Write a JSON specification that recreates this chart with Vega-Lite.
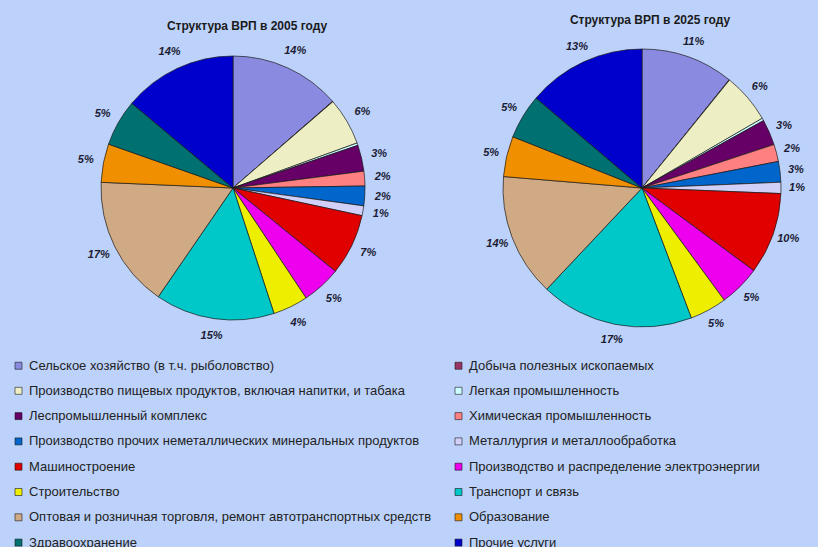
{
  "$schema": "https://vega.github.io/schema/vega-lite/v6.json",
  "background": "#bdd2fb",
  "padding": {"left": 0, "top": 13, "right": 0, "bottom": 0},
  "data": {"values": [
    {"year": 2005, "k": 1, "sector": "Сельское хозяйство (в т.ч. рыболовство)", "value": 13.6, "label": "14%"},
    {"year": 2005, "k": 2, "sector": "Добыча полезных ископаемых", "value": 0.05, "label": ""},
    {"year": 2005, "k": 3, "sector": "Производство пищевых продуктов, включая напитки, и табака", "value": 5.8, "label": "6%"},
    {"year": 2005, "k": 4, "sector": "Легкая промышленность", "value": 0.3, "label": ""},
    {"year": 2005, "k": 5, "sector": "Леспромышленный комплекс", "value": 3.2, "label": "3%"},
    {"year": 2005, "k": 6, "sector": "Химическая промышленность", "value": 1.8, "label": "2%"},
    {"year": 2005, "k": 7, "sector": "Производство прочих неметаллических минеральных продуктов", "value": 2.4, "label": "2%"},
    {"year": 2005, "k": 8, "sector": "Металлургия и металлообработка", "value": 1.2, "label": "1%"},
    {"year": 2005, "k": 9, "sector": "Машиностроение", "value": 7.5, "label": "7%"},
    {"year": 2005, "k": 10, "sector": "Производство и распределение электроэнергии", "value": 4.8, "label": "5%"},
    {"year": 2005, "k": 11, "sector": "Строительство", "value": 4.3, "label": "4%"},
    {"year": 2005, "k": 12, "sector": "Транспорт и связь", "value": 14.6, "label": "15%"},
    {"year": 2005, "k": 13, "sector": "Оптовая и розничная торговля, ремонт автотранспортных средств", "value": 16.1, "label": "17%"},
    {"year": 2005, "k": 14, "sector": "Образование", "value": 4.7, "label": "5%"},
    {"year": 2005, "k": 15, "sector": "Здравоохранение", "value": 5.7, "label": "5%"},
    {"year": 2005, "k": 16, "sector": "Прочие услуги", "value": 13.9, "label": "14%"},
    {"year": 2025, "k": 1, "sector": "Сельское хозяйство (в т.ч. рыболовство)", "value": 10.8, "label": "11%"},
    {"year": 2025, "k": 2, "sector": "Добыча полезных ископаемых", "value": 0.05, "label": ""},
    {"year": 2025, "k": 3, "sector": "Производство пищевых продуктов, включая напитки, и табака", "value": 5.8, "label": "6%"},
    {"year": 2025, "k": 4, "sector": "Легкая промышленность", "value": 0.3, "label": ""},
    {"year": 2025, "k": 5, "sector": "Леспромышленный комплекс", "value": 3.0, "label": "3%"},
    {"year": 2025, "k": 6, "sector": "Химическая промышленность", "value": 2.0, "label": "2%"},
    {"year": 2025, "k": 7, "sector": "Производство прочих неметаллических минеральных продуктов", "value": 2.4, "label": "3%"},
    {"year": 2025, "k": 8, "sector": "Металлургия и металлообработка", "value": 1.3, "label": "1%"},
    {"year": 2025, "k": 9, "sector": "Машиностроение", "value": 9.5, "label": "10%"},
    {"year": 2025, "k": 10, "sector": "Производство и распределение электроэнергии", "value": 4.8, "label": "5%"},
    {"year": 2025, "k": 11, "sector": "Строительство", "value": 4.3, "label": "5%"},
    {"year": 2025, "k": 12, "sector": "Транспорт и связь", "value": 17.8, "label": "17%"},
    {"year": 2025, "k": 13, "sector": "Оптовая и розничная торговля, ремонт автотранспортных средств", "value": 14.3, "label": "14%"},
    {"year": 2025, "k": 14, "sector": "Образование", "value": 4.7, "label": "5%"},
    {"year": 2025, "k": 15, "sector": "Здравоохранение", "value": 5.2, "label": "5%"},
    {"year": 2025, "k": 16, "sector": "Прочие услуги", "value": 13.8, "label": "13%"}
  ]},
  "spacing": 0,
  "hconcat": [
    {
      "width": 466,
      "height": 298,
      "title": {"text": "Структура ВРП в 2005 году", "dx": 14},
      "transform": [{"filter": "datum.year === 2005"}],
      "encoding": {
        "theta": {"field": "value", "type": "quantitative", "stack": true},
        "order": {"field": "k", "type": "quantitative"}
      },
      "layer": [
        {
          "mark": {"type": "arc", "outerRadius": 132, "stroke": "#1a1a1a", "strokeWidth": 0.7},
          "encoding": {
            "color": {
              "field": "sector",
              "type": "nominal",
              "scale": {
                "domain": [
                  "Сельское хозяйство (в т.ч. рыболовство)",
                  "Производство пищевых продуктов, включая напитки, и табака",
                  "Леспромышленный комплекс",
                  "Производство прочих неметаллических минеральных продуктов",
                  "Машиностроение",
                  "Строительство",
                  "Оптовая и розничная торговля, ремонт автотранспортных средств",
                  "Здравоохранение",
                  "Добыча полезных ископаемых",
                  "Легкая промышленность",
                  "Химическая промышленность",
                  "Металлургия и металлообработка",
                  "Производство и распределение электроэнергии",
                  "Транспорт и связь",
                  "Образование",
                  "Прочие услуги"
                ],
                "range": ["#8a8ae0", "#eeeec4", "#660066", "#0066cc", "#e00000", "#eeee00", "#d0aa85", "#007070", "#993366", "#ccffff", "#ff8080", "#d0d0f8", "#ee00ee", "#00c8c8", "#f09000", "#0000cc"]
              },
              "legend": {
                "orient": "none",
                "legendX": 12,
                "legendY": 320,
                "columns": 2,
                "title": null,
                "symbolType": "square",
                "symbolSize": 49,
                "symbolStrokeColor": "#333333",
                "symbolStrokeWidth": 0.6,
                "labelFontSize": 13,
                "labelFont": "Liberation Sans",
                "labelColor": "#222222",
                "labelLimit": 700,
                "labelOffset": 4,
                "rowPadding": 11.3,
                "columnPadding": 20
              }
            }
          }
        },
        {
          "mark": {"type": "text", "radius": 150, "fontSize": 11, "fontWeight": "bold", "fontStyle": "italic", "fill": "#1c1c34", "font": "Liberation Sans"},
          "encoding": {"text": {"field": "label", "type": "nominal"}}
        }
      ]
    },
    {
      "width": 352,
      "height": 298,
      "title": {"text": "Структура ВРП в 2025 году", "dx": 8, "offset": 9},
      "transform": [{"filter": "datum.year === 2025"}],
      "encoding": {
        "theta": {"field": "value", "type": "quantitative", "stack": true},
        "order": {"field": "k", "type": "quantitative"}
      },
      "layer": [
        {
          "mark": {"type": "arc", "outerRadius": 139, "stroke": "#1a1a1a", "strokeWidth": 0.7},
          "encoding": {"color": {"field": "sector", "type": "nominal"}}
        },
        {
          "mark": {"type": "text", "radius": 155, "fontSize": 11, "fontWeight": "bold", "fontStyle": "italic", "fill": "#1c1c34", "font": "Liberation Sans"},
          "encoding": {"text": {"field": "label", "type": "nominal"}}
        }
      ]
    }
  ],
  "resolve": {"scale": {"color": "shared"}},
  "config": {
    "view": {"stroke": null},
    "font": "Liberation Sans",
    "title": {"fontSize": 12, "fontWeight": "bold", "color": "#1a1a1a", "font": "Liberation Sans", "offset": 6}
  }
}
